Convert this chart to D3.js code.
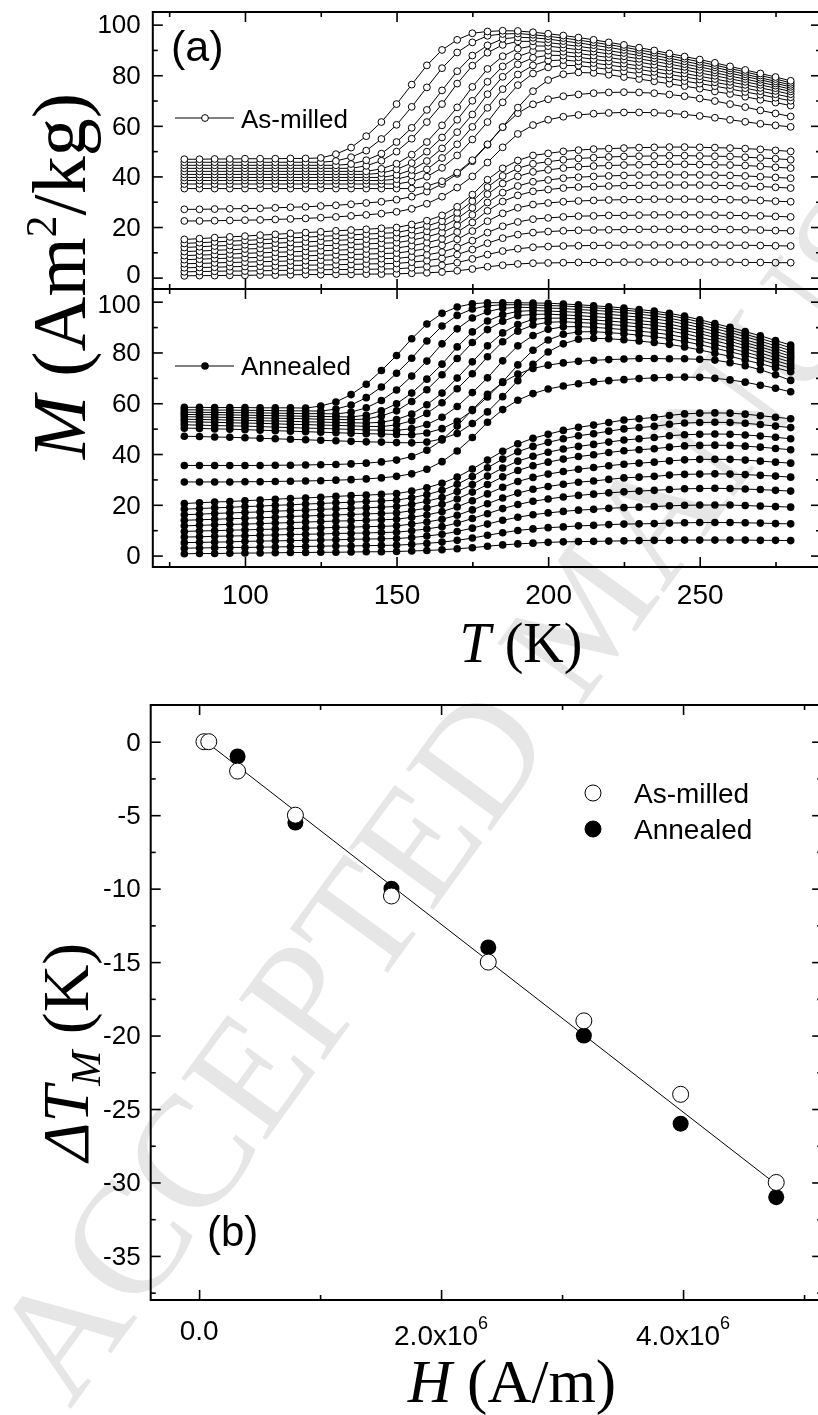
<!DOCTYPE html>
<html>
<head>
<meta charset="utf-8">
<script src="https://cdn.jsdelivr.net/npm/d3@7"></script>
<style>
  html, body { margin: 0; padding: 0; background: #fff; }
  svg { display: block; }
</style>
</head>
<body>
<svg id="fig" width="818" height="1415" xmlns="http://www.w3.org/2000/svg"></svg>
<script>
// ---------------------------------------------------------------
// Temperature grid of the isofield M(T) curves (K)
// ---------------------------------------------------------------
const temps = [80,85,90,95,100,105,110,115,120,125,130,135,140,145,150,155,160,165,170,175,
               180,185,190,195,200,205,210,215,220,225,230,235,240,245,250,255,260,265,270,275,280];

// M (Am^2/kg) of the as-milled ribbon, one row per applied field (low -> high)
const asMilled = [
  [0.7,0.8,0.8,0.9,0.9,1.0,1.0,1.1,1.2,1.2,1.3,1.3,1.4,1.4,1.5,1.7,1.9,2.2,2.7,3.4,4.3,4.9,5.4,5.7,5.8,5.9,6.0,6.0,6.0,6.1,6.1,6.1,6.1,6.1,6.1,6.1,6.1,6.0,6.0,5.9,5.9],
  [2.3,2.4,2.5,2.6,2.6,2.7,2.8,2.9,3.0,3.1,3.2,3.2,3.3,3.4,3.5,3.9,4.3,4.9,5.9,7.4,9.1,10.5,11.4,12.0,12.3,12.5,12.6,12.7,12.8,12.8,12.9,12.9,12.9,12.9,12.9,12.9,12.8,12.8,12.7,12.6,12.5],
  [3.9,4.0,4.1,4.3,4.4,4.5,4.6,4.8,4.9,5.0,5.1,5.2,5.4,5.5,5.6,6.1,6.7,7.6,9.1,11.1,13.6,15.6,17.0,17.8,18.2,18.5,18.7,18.8,18.9,19.0,19.1,19.1,19.1,19.1,19.1,19.1,19.0,18.9,18.8,18.6,18.5],
  [5.5,5.6,5.8,6.0,6.1,6.3,6.4,6.6,6.7,6.9,7.0,7.2,7.3,7.5,7.6,8.2,9.0,10.1,12.0,14.6,17.8,20.3,22.0,23.1,23.6,24.0,24.3,24.4,24.6,24.6,24.7,24.8,24.8,24.8,24.8,24.7,24.6,24.5,24.4,24.2,24.0],
  [7.1,7.3,7.5,7.7,7.8,8.0,8.2,8.4,8.6,8.8,9.0,9.1,9.3,9.5,9.7,10.5,11.5,12.8,15.1,18.4,22.3,25.4,27.6,28.9,29.5,30.0,30.3,30.5,30.7,30.8,30.9,31.0,31.0,31.0,31.0,30.9,30.8,30.7,30.5,30.2,30.0],
  [8.7,8.9,9.1,9.3,9.6,9.8,10.0,10.2,10.4,10.6,10.8,11.1,11.3,11.5,11.7,12.6,13.8,15.3,18.0,21.8,26.4,30.1,32.5,34.1,34.8,35.4,35.8,36.0,36.2,36.4,36.5,36.5,36.6,36.6,36.6,36.5,36.4,36.2,36.0,35.7,35.4],
  [10.3,10.5,10.8,11.0,11.3,11.5,11.8,12.1,12.3,12.6,12.8,13.1,13.3,13.6,13.8,14.8,16.1,17.8,20.7,24.8,29.7,33.6,36.2,37.9,38.6,39.3,39.7,40.0,40.2,40.4,40.5,40.6,40.6,40.6,40.6,40.5,40.4,40.2,39.9,39.6,39.3],
  [11.9,12.2,12.5,12.7,13.0,13.3,13.6,13.9,14.1,14.4,14.7,15.0,15.2,15.5,15.8,16.9,18.3,20.1,23.3,27.6,33.0,37.2,40.0,41.8,42.6,43.3,43.8,44.1,44.3,44.5,44.6,44.7,44.8,44.8,44.7,44.6,44.5,44.3,44.0,43.6,43.3],
  [13.5,13.8,14.1,14.4,14.7,15.0,15.3,15.7,16.0,16.3,16.6,16.9,17.2,17.5,17.8,19.0,20.4,22.3,25.6,30.2,35.8,40.2,43.2,45.0,45.8,46.6,47.1,47.4,47.7,47.9,48.0,48.1,48.2,48.2,48.1,48.0,47.9,47.6,47.3,47.0,46.6],
  [15.1,15.4,15.8,16.1,16.4,16.8,17.1,17.5,17.8,18.1,18.5,18.8,19.1,19.5,19.8,21.0,22.5,24.6,28.0,32.8,38.7,43.2,46.3,48.3,49.1,49.9,50.4,50.8,51.0,51.2,51.4,51.5,51.6,51.6,51.5,51.4,51.2,51.0,50.7,50.3,49.9],
  [22.4,22.4,22.5,22.6,22.7,22.8,23.0,23.2,23.4,23.7,24.0,24.4,24.8,25.3,26.0,27.2,29.2,32.0,35.6,40.0,45.5,51.5,56.8,60.3,62.4,63.6,64.3,64.8,65.1,65.3,65.3,65.2,64.9,64.5,63.9,63.2,62.4,61.6,60.8,60.2,59.6],
  [27.0,27.0,27.1,27.2,27.3,27.4,27.6,27.8,28.0,28.3,28.6,29.0,29.5,30.0,30.8,32.0,34.0,37.0,41.0,46.0,52.5,59.5,65.0,68.5,70.5,71.7,72.4,72.9,73.2,73.3,73.2,72.9,72.4,71.7,70.8,69.8,68.6,67.4,66.1,64.9,63.7],
  [35.2,35.2,35.2,35.2,35.2,35.2,35.2,35.2,35.2,35.2,35.2,35.2,35.2,35.2,35.2,35.2,36.2,38.1,41.5,46.4,52.7,59.5,67.2,73.7,78.1,80.4,81.1,80.9,80.2,79.3,78.5,77.6,76.6,75.7,74.7,73.6,72.6,71.5,70.3,69.2,68.0],
  [37.0,37.0,37.0,37.0,37.0,37.0,37.0,37.0,37.0,37.0,37.0,37.0,37.0,37.0,37.0,38.0,39.9,43.4,48.3,54.6,61.5,69.3,76.1,80.7,83.1,83.9,83.8,83.1,82.3,81.5,80.6,79.7,78.7,77.7,76.7,75.7,74.6,73.4,72.3,71.1,69.9],
  [38.4,38.4,38.4,38.4,38.4,38.4,38.4,38.4,38.4,38.4,38.4,38.4,38.4,38.4,38.9,40.4,42.8,47.3,52.7,59.6,67.1,74.5,80.3,83.9,85.8,86.0,85.5,84.8,84.0,83.2,82.3,81.3,80.3,79.3,78.3,77.2,76.1,74.9,73.7,72.5,71.3],
  [39.6,39.6,39.6,39.6,39.6,39.6,39.6,39.6,39.6,39.6,39.6,39.6,39.6,39.6,40.6,42.6,46.1,51.1,57.5,64.5,72.5,79.4,84.3,86.9,87.9,87.8,87.1,86.3,85.5,84.6,83.7,82.7,81.7,80.7,79.6,78.5,77.4,76.2,75.0,73.8,72.5],
  [40.8,40.8,40.8,40.8,40.8,40.8,40.8,40.8,40.8,40.8,40.8,40.8,40.8,41.3,42.8,45.3,49.8,55.4,62.4,69.9,77.4,83.5,87.4,89.5,89.7,89.3,88.6,87.8,87.0,86.1,85.2,84.1,83.1,82.1,80.9,79.8,78.6,77.4,76.2,74.9,73.6],
  [42.0,42.0,42.0,42.0,42.0,42.0,42.0,42.0,42.0,42.0,42.0,42.0,42.0,43.0,45.0,48.6,53.6,60.2,67.3,75.4,82.5,87.5,90.5,91.6,91.5,90.8,90.1,89.3,88.4,87.5,86.5,85.5,84.4,83.3,82.1,81.0,79.7,78.5,77.2,75.9,74.5],
  [43.2,43.2,43.2,43.2,43.2,43.2,43.2,43.2,43.2,43.2,43.2,43.2,44.2,46.2,49.8,54.9,61.5,68.6,76.7,83.8,88.9,92.0,93.4,93.4,92.9,92.2,91.4,90.6,89.7,88.8,87.8,86.7,85.6,84.4,83.3,82.0,80.8,79.5,78.2,76.8,75.4],
  [44.4,44.4,44.4,44.4,44.4,44.4,44.4,44.4,44.4,44.4,44.4,44.9,46.4,49.0,53.6,59.2,66.3,74.0,81.6,87.8,91.8,94.4,95.0,94.8,94.3,93.5,92.8,91.9,91.0,90.0,89.0,87.8,86.7,85.5,84.3,83.1,81.8,80.4,79.0,77.6,76.2],
  [45.6,45.6,45.6,45.6,45.6,45.6,45.6,45.6,45.6,45.6,46.1,47.6,50.2,54.8,60.4,67.5,75.2,82.8,89.0,93.0,95.6,96.3,96.5,96.0,95.4,94.7,93.9,93.0,92.1,91.1,90.0,88.9,87.7,86.5,85.3,84.0,82.7,81.3,79.9,78.5,77.0],
  [46.8,46.8,46.9,46.9,47.0,47.0,47.0,47.1,47.1,47.3,48.8,51.4,55.9,61.5,68.6,76.3,83.9,90.0,94.0,96.6,97.3,97.6,97.5,97.0,96.4,95.7,94.9,94.0,93.0,92.0,90.9,89.8,88.6,87.4,86.2,84.9,83.5,82.1,80.7,79.3,77.8]
];

// M (Am^2/kg) of the annealed ribbon, same fields and grid
const annealed = [
  [0.7,0.8,0.8,0.9,1.0,1.0,1.1,1.2,1.2,1.3,1.3,1.4,1.5,1.5,1.6,1.8,2.0,2.3,2.7,3.1,3.7,4.2,4.6,4.9,5.2,5.4,5.5,5.6,5.7,5.8,5.9,6.0,6.0,6.1,6.1,6.1,6.1,6.1,6.0,6.0,5.9],
  [2.9,3.0,3.1,3.2,3.2,3.3,3.4,3.5,3.6,3.7,3.8,3.8,3.9,4.0,4.1,4.4,4.8,5.3,6.0,6.9,8.0,9.0,9.9,10.5,11.0,11.3,11.7,11.9,12.2,12.4,12.5,12.6,12.8,12.9,13.0,13.0,13.0,12.9,12.8,12.6,12.5],
  [5.1,5.2,5.3,5.4,5.6,5.7,5.8,5.9,6.0,6.1,6.2,6.4,6.5,6.6,6.7,7.1,7.7,8.4,9.5,10.8,12.4,13.9,15.1,16.1,16.8,17.4,17.9,18.2,18.6,18.9,19.1,19.3,19.6,19.8,19.9,19.9,19.9,19.7,19.5,19.3,19.1],
  [7.3,7.4,7.6,7.7,7.8,8.0,8.1,8.3,8.4,8.5,8.7,8.8,8.9,9.1,9.2,9.8,10.5,11.4,12.8,14.6,16.5,18.5,20.1,21.4,22.3,23.1,23.7,24.2,24.7,25.1,25.4,25.7,26.0,26.3,26.4,26.5,26.4,26.2,26.0,25.7,25.4],
  [9.5,9.7,9.8,10.0,10.1,10.3,10.4,10.6,10.8,10.9,11.1,11.2,11.4,11.5,11.7,12.4,13.2,14.3,15.9,18.0,20.4,22.7,24.6,26.1,27.2,28.1,28.9,29.4,30.0,30.6,30.9,31.2,31.7,32.0,32.1,32.2,32.1,31.9,31.6,31.3,30.9],
  [11.7,11.9,12.1,12.3,12.4,12.6,12.8,13.0,13.2,13.4,13.6,13.7,13.9,14.1,14.3,15.1,16.0,17.3,19.2,21.6,24.3,26.9,29.2,30.8,32.1,33.1,34.0,34.7,35.4,36.0,36.4,36.8,37.3,37.7,37.9,37.9,37.9,37.6,37.2,36.8,36.4],
  [13.9,14.1,14.3,14.5,14.7,14.9,15.1,15.4,15.6,15.8,16.0,16.2,16.4,16.6,16.8,17.7,18.7,20.2,22.3,25.0,28.0,31.0,33.5,35.4,36.8,38.0,39.0,39.7,40.6,41.3,41.7,42.1,42.7,43.2,43.4,43.5,43.4,43.1,42.7,42.2,41.7],
  [16.1,16.3,16.6,16.8,17.0,17.2,17.5,17.7,17.9,18.2,18.4,18.6,18.8,19.1,19.3,20.2,21.4,22.9,25.2,28.0,31.3,34.5,37.2,39.1,40.7,42.0,43.0,43.8,44.7,45.5,46.0,46.5,47.2,47.6,47.8,47.9,47.8,47.5,47.1,46.6,46.0],
  [18.3,18.5,18.8,19.0,19.3,19.5,19.8,20.0,20.3,20.5,20.8,21.0,21.3,21.5,21.8,22.8,24.0,25.7,28.1,31.1,34.6,38.0,40.9,43.0,44.6,46.0,47.2,48.0,49.0,49.9,50.4,50.9,51.7,52.2,52.4,52.5,52.4,52.1,51.6,51.0,50.4],
  [20.5,20.8,21.1,21.3,21.6,21.9,22.2,22.5,22.7,23.0,23.3,23.6,23.8,24.1,24.4,25.4,26.7,28.5,30.9,34.1,37.6,41.1,44.0,46.2,47.8,49.3,50.5,51.4,52.4,53.4,53.9,54.4,55.2,55.8,56.1,56.2,56.1,55.7,55.1,54.5,53.9],
  [29.0,29.0,29.0,29.0,29.1,29.1,29.2,29.3,29.4,29.5,29.7,29.9,30.2,30.6,31.2,32.2,34.0,37.0,41.2,46.5,52.5,57.5,61.2,63.8,65.6,66.8,67.7,68.4,68.9,69.3,69.7,70.0,70.2,70.3,70.2,69.8,69.2,68.3,67.1,65.9,64.5],
  [35.5,35.5,35.5,35.5,35.5,35.5,35.6,35.6,35.7,35.8,35.9,36.1,36.4,36.9,37.6,39.0,41.5,45.5,51.0,57.5,63.5,68.2,71.5,73.7,75.0,75.9,76.5,76.9,77.2,77.4,77.6,77.6,77.5,77.5,77.3,77.0,76.0,74.8,73.2,71.2,69.0],
  [47.0,46.9,46.7,46.6,46.4,46.2,46.0,45.8,45.6,45.4,45.2,45.0,44.8,44.7,44.5,44.4,44.7,46.0,48.1,52.0,56.6,62.6,68.9,75.3,80.2,83.4,85.2,85.6,85.4,85.0,84.5,83.9,83.2,82.2,81.0,79.7,78.5,77.0,75.6,74.0,72.4],
  [50.2,50.1,49.9,49.8,49.6,49.4,49.2,49.0,48.8,48.6,48.4,48.2,48.0,47.9,47.7,47.6,48.3,50.0,52.9,57.1,62.5,68.4,75.1,80.9,84.9,87.2,88.1,88.2,87.8,87.4,86.8,86.2,85.4,84.3,83.1,81.7,80.3,78.8,77.2,75.5,73.8],
  [51.5,51.4,51.2,51.1,51.0,50.8,50.6,50.4,50.2,50.1,49.9,49.7,49.5,49.4,49.3,50.0,51.6,54.5,58.7,64.2,70.0,76.7,82.6,86.7,89.1,90.1,90.2,89.9,89.5,89.0,88.4,87.8,87.0,85.9,84.6,83.2,81.7,80.1,78.5,76.8,75.0],
  [52.7,52.6,52.5,52.3,52.2,52.1,51.9,51.7,51.6,51.4,51.3,51.1,50.9,50.8,51.5,53.1,56.0,60.2,65.7,71.6,78.3,84.2,88.4,90.8,91.9,92.1,91.8,91.5,91.0,90.6,90.0,89.3,88.5,87.4,86.0,84.6,83.1,81.5,79.8,78.0,76.2],
  [53.7,53.6,53.5,53.4,53.3,53.1,53.0,52.9,52.7,52.6,52.4,52.3,52.2,52.5,53.6,55.7,59.4,64.0,69.9,76.3,82.6,87.7,91.0,93.1,93.5,93.5,93.2,92.8,92.4,91.9,91.3,90.7,89.9,88.7,87.4,85.9,84.4,82.7,81.1,79.2,77.4],
  [54.7,54.6,54.5,54.4,54.3,54.2,54.1,54.0,53.9,53.7,53.6,53.5,53.8,55.0,57.0,60.7,65.3,71.2,77.6,83.9,89.0,92.3,94.5,95.0,95.1,94.8,94.5,94.1,93.7,93.2,92.6,91.9,91.1,89.9,88.6,87.1,85.6,83.9,82.2,80.4,78.5],
  [55.6,55.5,55.5,55.4,55.3,55.2,55.1,55.0,54.9,54.8,54.7,54.6,55.3,57.0,59.8,64.0,69.5,75.4,82.2,88.1,92.4,94.9,96.2,96.5,96.3,96.1,95.8,95.4,95.0,94.5,93.9,93.2,92.4,91.2,89.8,88.3,86.7,85.0,83.3,81.5,79.6],
  [56.5,56.4,56.4,56.3,56.3,56.2,56.1,56.0,55.9,55.9,55.8,56.5,58.2,61.1,65.2,70.7,76.6,83.4,89.3,93.6,96.1,97.4,97.8,97.7,97.5,97.3,96.9,96.6,96.2,95.7,95.1,94.4,93.5,92.3,91.0,89.4,87.9,86.2,84.5,82.6,80.7],
  [57.4,57.4,57.3,57.3,57.2,57.2,57.1,57.0,57.0,56.9,57.7,59.3,62.2,66.4,71.8,77.7,84.5,90.4,94.6,97.1,98.4,98.8,98.8,98.7,98.5,98.3,98.0,97.6,97.2,96.7,96.1,95.4,94.6,93.4,92.0,90.5,88.9,87.2,85.5,83.7,81.8],
  [58.4,58.4,58.3,58.3,58.3,58.2,58.2,58.2,58.1,58.9,60.5,63.4,67.5,72.9,78.8,85.4,91.2,95.4,97.9,99.2,99.6,99.6,99.6,99.5,99.4,99.1,98.8,98.4,98.0,97.5,96.9,96.3,95.4,94.3,92.9,91.4,89.9,88.2,86.6,84.7,82.9]
];

// Shift of the martensitic transition temperature with applied field
const fieldAsMilled = [0.04e6, 0.08e6, 0.318e6, 0.796e6, 1.59e6, 2.39e6, 3.18e6, 3.98e6, 4.77e6];
const shiftAsMilled = [0, 0, -2, -5, -10.5, -15, -19, -24, -30];
const fieldAnnealed = [0.318e6, 0.796e6, 1.59e6, 2.39e6, 3.18e6, 3.98e6, 4.77e6];
const shiftAnnealed = [-1, -5.5, -10, -14, -20, -26, -31];
// linear fit through both data sets
const fitField = [0.11e6, 4.75e6];
const fitShift = [-0.34, -30.0];

// Tick values and labels
const tempTicks = [100, 150, 200, 250];
const tempMinor = [75, 125, 175, 225, 275];
const magTicks = [0, 20, 40, 60, 80, 100];
const magMinor = [10, 30, 50, 70, 90];
const shiftTicks = [0, -5, -10, -15, -20, -25, -30, -35];
const shiftMinor = [-2.5, -7.5, -12.5, -17.5, -22.5, -27.5, -32.5, -37.5];
const fieldTicks = [0, 2e6, 4e6];
const fieldMinor = [1e6, 3e6, 5e6];
const fieldTickMantissa = ["0.0", "2.0x10", "4.0x10"];
const fieldTickExponent = ["", "6", "6"];

// ---------------------------------------------------------------
const SANS = "'Liberation Sans', Arial, Helvetica, sans-serif";
const SERIF = "'Liberation Serif', 'Times New Roman', Times, serif";
const svg = d3.select("#fig");
svg.append("rect").attr("width", 818).attr("height", 1415).attr("fill", "#fff");

// scales
const xT = d3.scaleLinear([69.6, 290], [152.8, 821]);
const yA = d3.scaleLinear([-4.5, 105], [289, 12]);
const yB = d3.scaleLinear([-4.5, 105], [567, 289]);
const xH = d3.scaleLinear([-0.4e6, 5.15e6], [150.7, 822.2]);
const yS = d3.scaleLinear([-38, 2.5], [1300, 705]);

const plainNumber = d => String(d);   // hyphen-minus, as printed on the axes

// inward ticks on all four sides of a frame
function ticksOnFrame(x, y, xMaj, xMin, yMaj, yMin) {
  const g = svg.append("g").attr("class", "axes");
  const [x0, x1] = x.range();
  const [yb, yt] = y.range();
  const sides = [
    { gen: d3.axisBottom, sc: x, maj: xMaj, min: xMin, tr: `translate(0,${yb})` },
    { gen: d3.axisTop, sc: x, maj: xMaj, min: xMin, tr: `translate(0,${yt})` },
    { gen: d3.axisLeft, sc: y, maj: yMaj, min: yMin, tr: `translate(${x0},0)` },
    { gen: d3.axisRight, sc: y, maj: yMaj, min: yMin, tr: `translate(${x1},0)` }
  ];
  sides.forEach(s => {
    g.append("g").attr("transform", s.tr)
      .call(s.gen(s.sc).tickValues(s.maj).tickSize(-10).tickFormat(""))
      .call(a => a.select(".domain").remove());
    g.append("g").attr("transform", s.tr)
      .call(s.gen(s.sc).tickValues(s.min).tickSize(-5).tickFormat(""))
      .call(a => a.select(".domain").remove());
  });
  g.selectAll(".tick line").attr("stroke", "#000").attr("stroke-width", 1.6);
  return g;
}

function yLabels(y, x0, values, pad) {
  return svg.append("g")
    .attr("transform", `translate(${x0},0)`)
    .call(d3.axisLeft(y).tickValues(values).tickSize(0).tickPadding(pad).tickFormat(plainNumber))
    .call(a => a.select(".domain").remove())
    .call(a => a.selectAll("text")
      .attr("font-family", SANS).attr("font-size", 26).attr("fill", "#000"));
}

// ---------------- upper figure: M(T) of both ribbons ----------------
function drawCurves(rows, y, filled) {
  const g = svg.append("g");
  const line = d3.line().x((d, i) => xT(temps[i])).y(d => y(d));
  rows.forEach(row => {
    g.append("path").attr("d", line(row))
      .attr("fill", "none").attr("stroke", "#000").attr("stroke-width", 1);
    g.selectAll(null).data(row).join("circle")
      .attr("cx", (d, i) => xT(temps[i]))
      .attr("cy", d => y(d))
      .attr("r", filled ? 3.8 : 3.4)
      .attr("fill", filled ? "#000" : "#fff")
      .attr("stroke", "#000")
      .attr("stroke-width", filled ? 0 : 1);
  });
}

drawCurves(asMilled, yA, false);
drawCurves(annealed, yB, true);

ticksOnFrame(xT, yA, tempTicks, tempMinor, magTicks, magMinor);
ticksOnFrame(xT, yB, tempTicks, tempMinor, magTicks, magMinor);

// frames
[yA, yB].forEach(y => {
  svg.append("rect")
    .attr("x", xT.range()[0]).attr("y", y.range()[1])
    .attr("width", xT.range()[1] - xT.range()[0])
    .attr("height", y.range()[0] - y.range()[1])
    .attr("fill", "none").attr("stroke", "#000").attr("stroke-width", 2);
});

// the "0" of the upper panel and the "100" of the lower one share the joint; nudge them apart
yLabels(yA, xT.range()[0], magTicks, 12)
  .selectAll(".tick").filter(d => d === 0).select("text").attr("dy", "0.2em");
yLabels(yB, xT.range()[0], magTicks, 12)
  .selectAll(".tick").filter(d => d === 100).select("text").attr("dy", "0.42em");

// temperature tick labels
svg.append("g")
  .attr("transform", `translate(0,${yB.range()[0]})`)
  .call(d3.axisBottom(xT).tickValues(tempTicks).tickSize(0).tickPadding(17).tickFormat(plainNumber))
  .call(a => a.select(".domain").remove())
  .selectAll("text")
  .attr("font-family", SANS).attr("font-size", 28).attr("fill", "#000");

// panel tag and legends
svg.append("text").attr("x", 171).attr("y", 61)
  .attr("font-family", SANS).attr("font-size", 43).text("(a)");

function seriesKey(yLine, label, filled, textY) {
  svg.append("line").attr("x1", 175).attr("x2", 234).attr("y1", yLine).attr("y2", yLine)
    .attr("stroke", "#000").attr("stroke-width", 1);
  svg.append("circle").attr("cx", 205).attr("cy", yLine)
    .attr("r", filled ? 3.8 : 3.4)
    .attr("fill", filled ? "#000" : "#fff").attr("stroke", "#000").attr("stroke-width", filled ? 0 : 1);
  svg.append("text").attr("x", 241).attr("y", textY)
    .attr("font-family", SANS).attr("font-size", 26).text(label);
}
seriesKey(118, "As-milled", false, 128);
seriesKey(366, "Annealed", true, 375);

// axis titles of the upper figure
const tT = svg.append("text").attr("x", 521).attr("y", 662).attr("text-anchor", "middle")
  .attr("font-family", SERIF).attr("font-size", 56);
tT.append("tspan").attr("font-style", "italic").text("T");
tT.append("tspan").text(" (K)");

const tM = svg.append("text").attr("transform", "translate(85,276) rotate(-90)")
  .attr("text-anchor", "middle").attr("font-family", SERIF).attr("font-size", 76);
tM.append("tspan").attr("font-style", "italic").text("M");
tM.append("tspan").text(" (Am");
tM.append("tspan").attr("dy", -29).attr("font-size", 44).text("2");
tM.append("tspan").attr("dy", 29).text("/kg)");

// ---------------- lower figure: transition shift vs field ----------------
const gB = svg.append("g");
gB.append("path")
  .attr("d", d3.line().x(d => xH(d[0])).y(d => yS(d[1]))(fitField.map((h, i) => [h, fitShift[i]])))
  .attr("fill", "none").attr("stroke", "#000").attr("stroke-width", 1);
gB.selectAll("circle.ann").data(fieldAnnealed).join("circle").attr("class", "ann")
  .attr("cx", d => xH(d)).attr("cy", (d, i) => yS(shiftAnnealed[i]))
  .attr("r", 8).attr("fill", "#000");
gB.selectAll("circle.asm").data(fieldAsMilled).join("circle").attr("class", "asm")
  .attr("cx", d => xH(d)).attr("cy", (d, i) => yS(shiftAsMilled[i]))
  .attr("r", 8).attr("fill", "#fff").attr("stroke", "#000").attr("stroke-width", 1);

ticksOnFrame(xH, yS, fieldTicks, fieldMinor, shiftTicks, shiftMinor);
svg.append("rect")
  .attr("x", xH.range()[0]).attr("y", yS.range()[1])
  .attr("width", xH.range()[1] - xH.range()[0])
  .attr("height", yS.range()[0] - yS.range()[1])
  .attr("fill", "none").attr("stroke", "#000").attr("stroke-width", 2);

yLabels(yS, xH.range()[0], shiftTicks, 10);

// field tick labels with exponent
const fl = svg.append("g").selectAll("text").data(fieldTicks).join("text")
  .attr("x", d => xH(d)).attr("y", (d, i) => i === 0 ? 1340 : 1345)
  .attr("text-anchor", "middle").attr("font-family", SANS).attr("font-size", 28);
fl.append("tspan").text((d, i) => fieldTickMantissa[i]);
fl.append("tspan").attr("dy", -16).attr("font-size", 18).text((d, i) => fieldTickExponent[i]);

svg.append("text").attr("x", 207).attr("y", 1246)
  .attr("font-family", SANS).attr("font-size", 42).text("(b)");

// legend
[["As-milled", false, 793, 803], ["Annealed", true, 829, 839]].forEach(([lab, filled, cy, ty]) => {
  svg.append("circle").attr("cx", 593).attr("cy", cy).attr("r", 8)
    .attr("fill", filled ? "#000" : "#fff").attr("stroke", "#000").attr("stroke-width", 1);
  svg.append("text").attr("x", 634).attr("y", ty)
    .attr("font-family", SANS).attr("font-size", 28).text(lab);
});

const tH = svg.append("text").attr("x", 512).attr("y", 1402).attr("text-anchor", "middle")
  .attr("font-family", SERIF).attr("font-size", 61);
tH.append("tspan").attr("font-style", "italic").text("H");
tH.append("tspan").text(" (A/m)");

const tS = svg.append("text").attr("transform", "translate(88,1052) rotate(-90)")
  .attr("text-anchor", "middle").attr("font-family", SERIF).attr("font-size", 66);
tS.append("tspan").attr("font-style", "italic").text("\u0394T");
tS.append("tspan").attr("font-style", "italic").attr("dy", 12).attr("font-size", 42).text("M");
tS.append("tspan").attr("dy", -12).text(" (K)");

// manuscript stamp across the page
svg.append("text")
  .attr("transform", "translate(70,1410) rotate(-54)")
  .attr("font-family", SERIF).attr("font-size", 160)
  .attr("fill", "#e6e6e6")
  .style("mix-blend-mode", "multiply")
  .text("ACCEPTED MANUSCRIPT");
</script>
</body>
</html>
